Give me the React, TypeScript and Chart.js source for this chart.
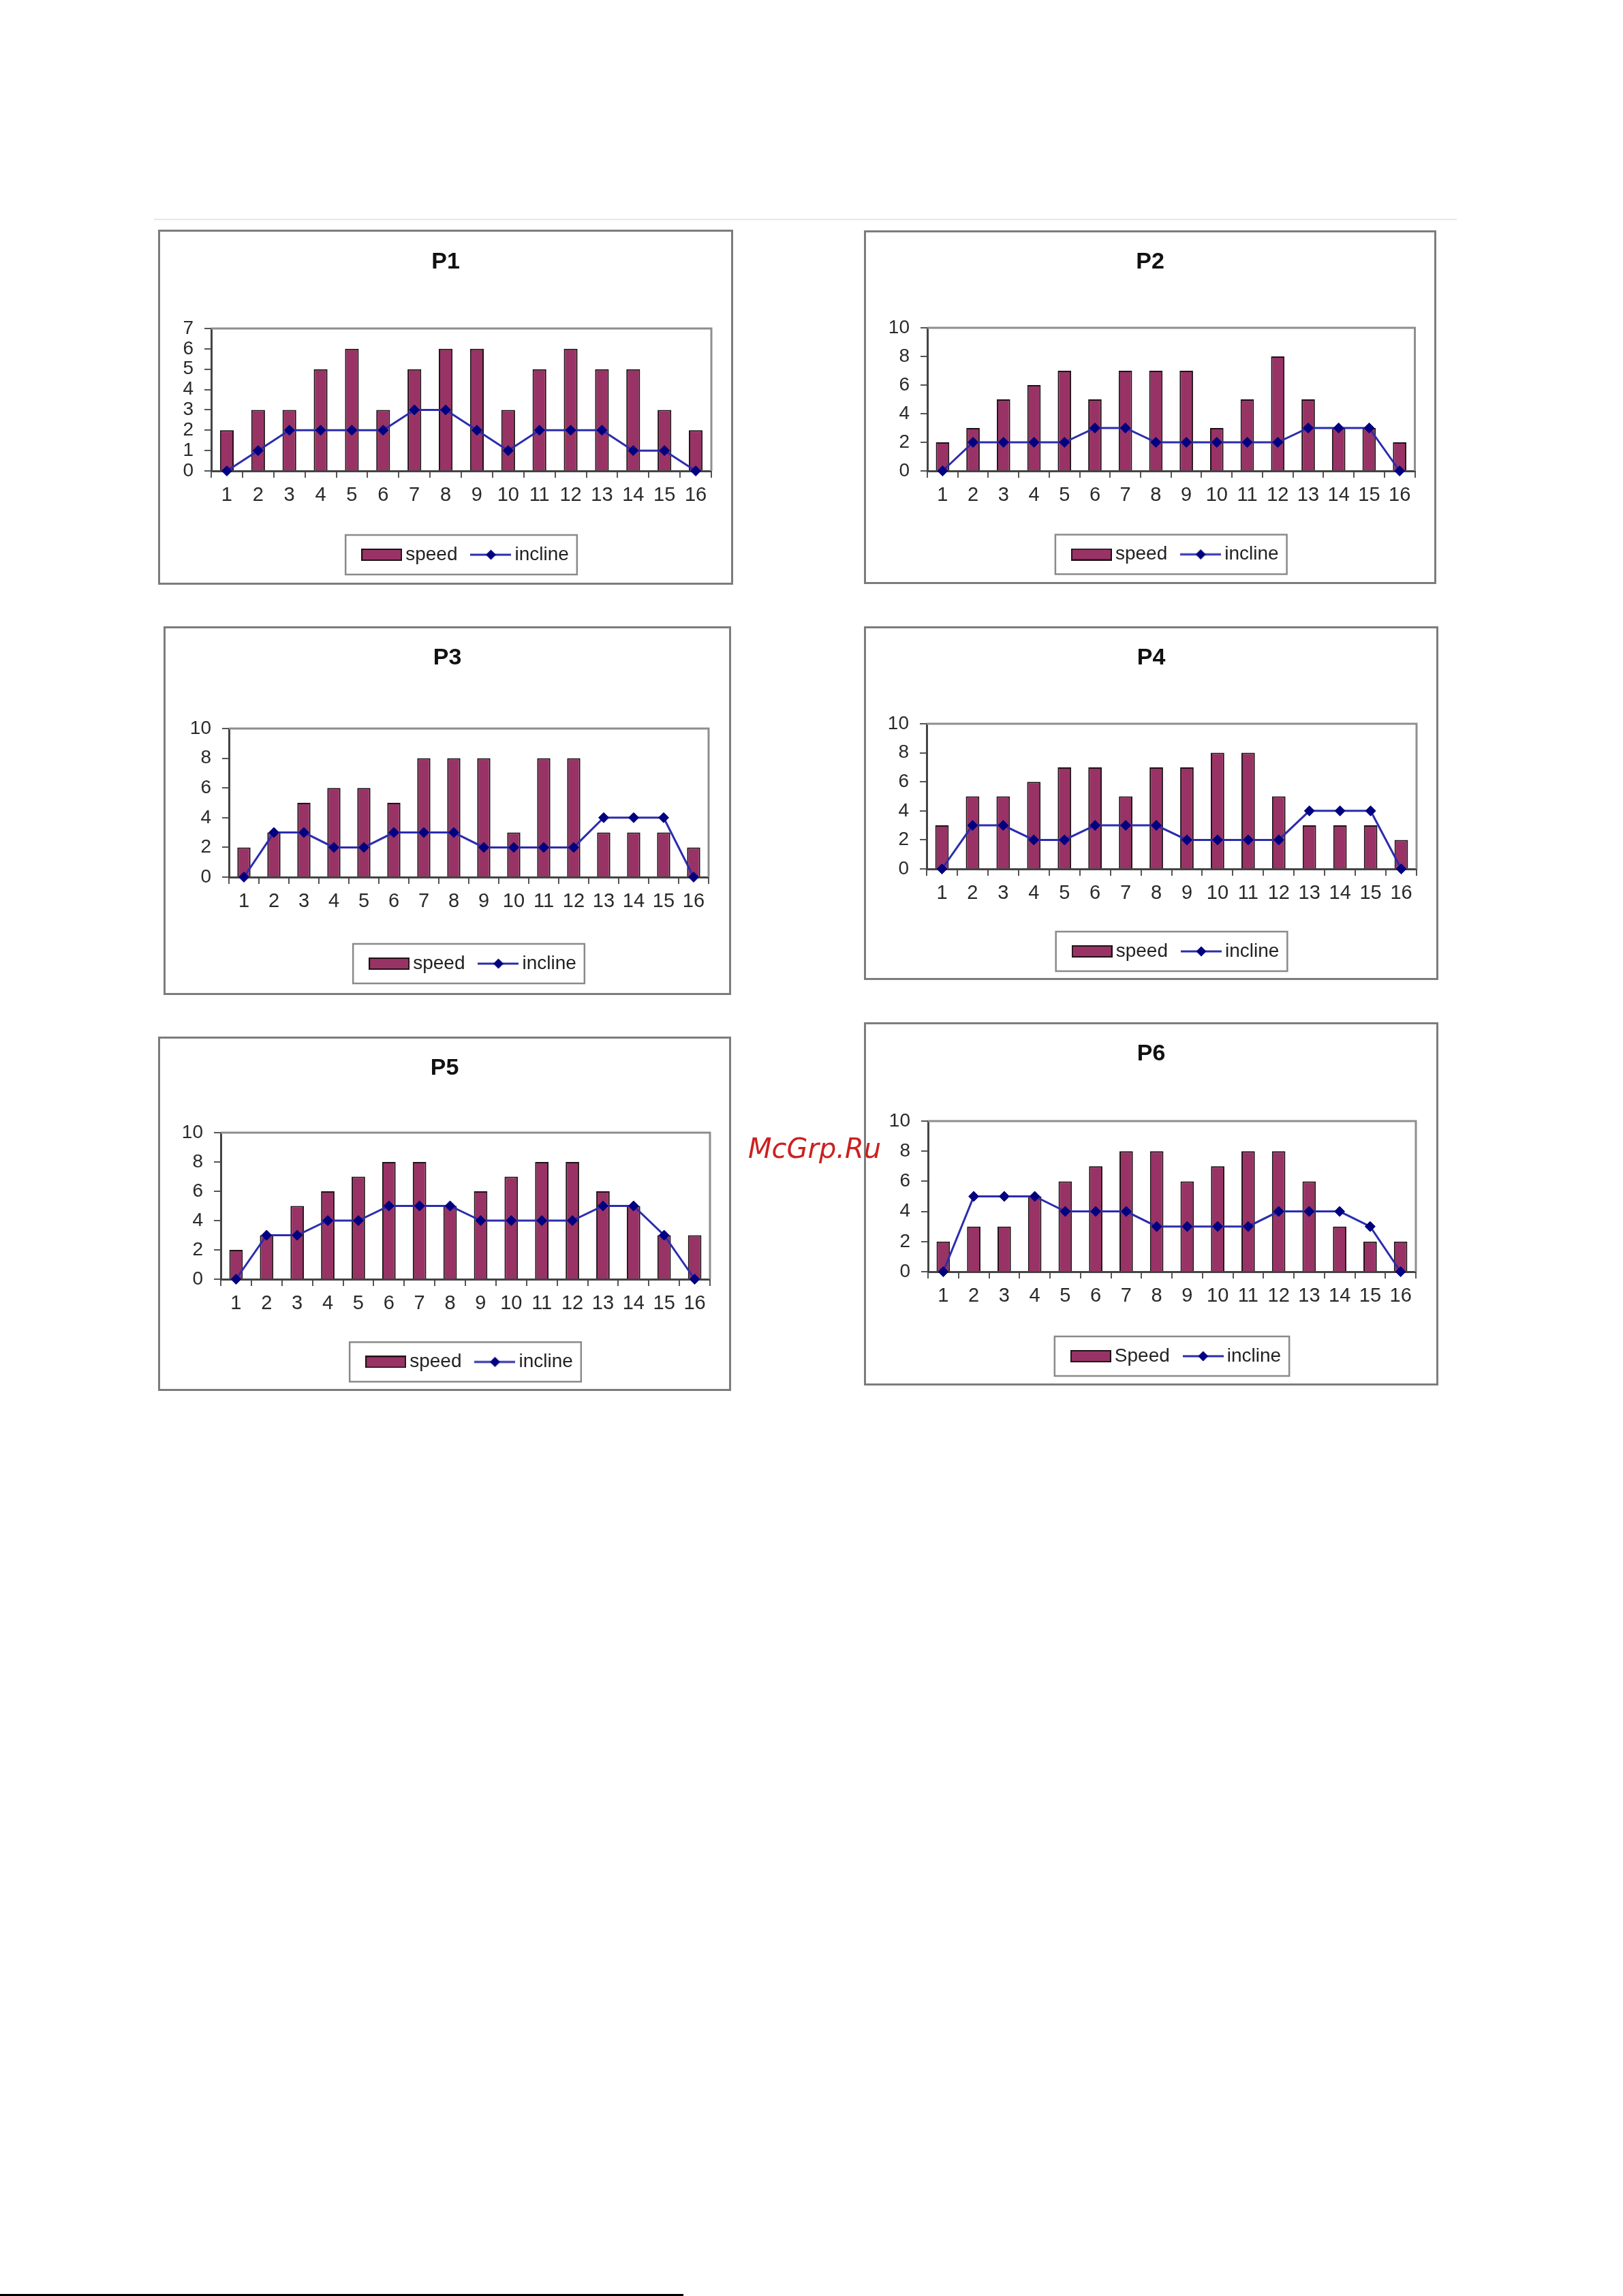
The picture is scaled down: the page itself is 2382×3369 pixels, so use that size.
import React, { useEffect, useRef } from 'react';
import { Chart, registerables } from 'chart.js';

Chart.register(...registerables);

// ---------------- data ----------------
const categories = ['1', '2', '3', '4', '5', '6', '7', '8', '9', '10', '11', '12', '13', '14', '15', '16'];

const speedP1 = [2, 3, 3, 5, 6, 3, 5, 6, 6, 3, 5, 6, 5, 5, 3, 2];
const inclineP1 = [0, 1, 2, 2, 2, 2, 3, 3, 2, 1, 2, 2, 2, 1, 1, 0];

const speedP2 = [2, 3, 5, 6, 7, 5, 7, 7, 7, 3, 5, 8, 5, 3, 3, 2];
const inclineP2 = [0, 2, 2, 2, 2, 3, 3, 2, 2, 2, 2, 2, 3, 3, 3, 0];

const speedP3 = [2, 3, 5, 6, 6, 5, 8, 8, 8, 3, 8, 8, 3, 3, 3, 2];
const inclineP3 = [0, 3, 3, 2, 2, 3, 3, 3, 2, 2, 2, 2, 4, 4, 4, 0];

const speedP4 = [3, 5, 5, 6, 7, 7, 5, 7, 7, 8, 8, 5, 3, 3, 3, 2];
const inclineP4 = [0, 3, 3, 2, 2, 3, 3, 3, 2, 2, 2, 2, 4, 4, 4, 0];

const speedP5 = [2, 3, 5, 6, 7, 8, 8, 5, 6, 7, 8, 8, 6, 5, 3, 3];
const inclineP5 = [0, 3, 3, 4, 4, 5, 5, 5, 4, 4, 4, 4, 5, 5, 3, 0];

const speedP6 = [2, 3, 3, 5, 6, 7, 8, 8, 6, 7, 8, 8, 6, 3, 2, 2];
const inclineP6 = [0, 5, 5, 5, 4, 4, 4, 3, 3, 3, 3, 4, 4, 4, 3, 0];

const chartTitles = ['P1', 'P2', 'P3', 'P4', 'P5', 'P6'];
const speedLabels = ['speed', 'speed', 'speed', 'speed', 'speed', 'Speed'];
const inclineLabel = 'incline';
const yMaxes = [7, 10, 10, 10, 10, 10];
const ySteps = [1, 2, 2, 2, 2, 2];

const speedSeries = [speedP1, speedP2, speedP3, speedP4, speedP5, speedP6];
const inclineSeries = [inclineP1, inclineP2, inclineP3, inclineP4, inclineP5, inclineP6];

const watermarkText = 'McGrp.Ru';

// ---------------- layout (page pixels) ----------------
type Box = {
  x: number; y: number; w: number; h: number;
  plotLeft: number; plotTop: number; plotBottom: number; right: number;
  titleY: number; legendY: number;
};

const boxes: Box[] = [
  { x: 232, y: 337, w: 844, h: 521, plotLeft: 78, plotTop: 145, plotBottom: 354, right: 32, titleY: 48, legendY: 477 },
  { x: 1268, y: 338, w: 840, h: 519, plotLeft: 93, plotTop: 143, plotBottom: 353, right: 31.5, titleY: 47, legendY: 475.5 },
  { x: 240, y: 919, w: 833, h: 541, plotLeft: 96, plotTop: 150, plotBottom: 368, right: 33, titleY: 46.5, legendY: 495 },
  { x: 1268, y: 919, w: 843, h: 519, plotLeft: 92, plotTop: 143, plotBottom: 356, right: 32, titleY: 46.5, legendY: 477 },
  { x: 232, y: 1521, w: 841, h: 520, plotLeft: 92, plotTop: 141, plotBottom: 356, right: 31, titleY: 46.3, legendY: 477.4 },
  { x: 1268, y: 1500, w: 843, h: 533, plotLeft: 94, plotTop: 145, plotBottom: 366, right: 33, titleY: 47, legendY: 490 },
];

const BAR_COLOR = '#993366';
const BAR_BORDER = '#1e1216';
const LINE_COLOR = '#2c2cae';
const MARKER_COLOR = '#000080';
const FONT = '"Liberation Sans", Arial, sans-serif';
const BORDER = 3;
const LEGEND_FONT = 28;
const LEGEND_PAD = 28;
const SWATCH_BOX = 42;
const TITLE_SIZE = 34;
const LEGEND_SHIFT = 10;

function makeBarSwatch(): HTMLCanvasElement {
  const c = document.createElement('canvas');
  c.width = 60;
  c.height = 18;
  const g = c.getContext('2d')!;
  g.fillStyle = BAR_COLOR;
  g.fillRect(1, 1, 58, 16);
  g.strokeStyle = BAR_BORDER;
  g.lineWidth = 2;
  g.strokeRect(1, 1, 58, 16);
  return c;
}

function makeLineSwatch(): HTMLCanvasElement {
  const c = document.createElement('canvas');
  c.width = 60;
  c.height = 18;
  const g = c.getContext('2d')!;
  g.strokeStyle = LINE_COLOR;
  g.lineWidth = 3;
  g.beginPath();
  g.moveTo(0, 9);
  g.lineTo(60, 9);
  g.stroke();
  g.fillStyle = MARKER_COLOR;
  g.beginPath();
  g.moveTo(30, 1.5);
  g.lineTo(37.5, 9);
  g.lineTo(30, 16.5);
  g.lineTo(22.5, 9);
  g.closePath();
  g.fill();
  return c;
}

const framePlugin = {
  id: 'excelFrame',
  afterLayout(chart: any) {
    const lg = chart.legend;
    if (lg) {
      lg.left += LEGEND_SHIFT;
      lg.right += LEGEND_SHIFT;
    }
  },
  beforeDatasetsDraw(chart: any) {
    const { ctx, chartArea: a } = chart;
    ctx.save();
    ctx.strokeStyle = '#8e8e8e';
    ctx.lineWidth = 3;
    ctx.beginPath();
    ctx.moveTo(a.left, a.top);
    ctx.lineTo(a.right, a.top);
    ctx.lineTo(a.right, a.bottom);
    ctx.stroke();
    ctx.restore();
  },
  afterDraw(chart: any) {
    const lg = chart.legend;
    if (!lg || !lg.lineWidths) return;
    const ctx = chart.ctx;
    const lineW = lg.lineWidths[0];
    const startX = (lg.left + LEGEND_PAD + lg.right - lineW) / 2;
    const endX = startX + lineW - LEGEND_PAD;
    const cy = lg.top + LEGEND_PAD + LEGEND_FONT / 2;
    ctx.save();
    ctx.strokeStyle = '#8a8a8a';
    ctx.lineWidth = 2.5;
    ctx.strokeRect(startX - 32, cy - 29, endX - startX + 44, 58);
    ctx.restore();
  },
};

function ExcelChart({ idx }: { idx: number }) {
  const ref = useRef<HTMLCanvasElement | null>(null);
  const b = boxes[idx];
  const cw = b.w - 2 * BORDER;
  const ch = b.h - 2 * BORDER;

  useEffect(() => {
    if (!ref.current) return;
    const barSwatch = makeBarSwatch();
    const lineSwatch = makeLineSwatch();

    const titleC = b.titleY - BORDER;
    const titleH = TITLE_SIZE * 1.2;
    const titlePadTop = titleC - titleH / 2;
    const titlePadBottom = (b.plotTop - BORDER) - titlePadTop - titleH;
    const xAxisH = b.legendY - (LEGEND_PAD + LEGEND_FONT / 2) - b.plotBottom;
    const padBottom = b.h - 2 * BORDER - (b.legendY - BORDER + (LEGEND_FONT + LEGEND_PAD + 10) - (LEGEND_PAD + LEGEND_FONT / 2));
    const padSide = b.right - BORDER;
    const yAxisW = b.plotLeft - BORDER - padSide;

    const chart = new Chart(ref.current, {
      type: 'bar',
      data: {
        labels: categories,
        datasets: [
          {
            type: 'bar',
            label: speedLabels[idx],
            data: speedSeries[idx],
            backgroundColor: BAR_COLOR,
            borderColor: BAR_BORDER,
            borderWidth: 2,
            barPercentage: 0.44,
            categoryPercentage: 1,
            order: 2,
          } as any,
          {
            type: 'line',
            label: inclineLabel,
            data: inclineSeries[idx],
            borderColor: LINE_COLOR,
            borderWidth: 3,
            pointStyle: 'rectRot',
            pointRadius: 7.5,
            pointBackgroundColor: MARKER_COLOR,
            pointBorderColor: MARKER_COLOR,
            pointBorderWidth: 1,
            tension: 0,
            clip: false,
            order: 1,
          } as any,
        ],
      },
      options: {
        animation: false,
        responsive: false,
        maintainAspectRatio: false,
        devicePixelRatio: 1,
        events: [],
        layout: { padding: { left: padSide, right: padSide, top: 0, bottom: padBottom } },
        plugins: {
          tooltip: { enabled: false },
          title: {
            display: true,
            text: chartTitles[idx],
            color: '#111',
            font: { family: FONT, size: TITLE_SIZE, weight: 'bold', lineHeight: 1.2 },
            padding: { top: titlePadTop, bottom: titlePadBottom },
          },
          legend: {
            display: true,
            position: 'bottom',
            fullSize: false,
            labels: {
              usePointStyle: true,
              pointStyleWidth: SWATCH_BOX,
              padding: LEGEND_PAD,
              color: '#222',
              font: { family: FONT, size: LEGEND_FONT },
              sort: (a: any, c: any) => a.datasetIndex - c.datasetIndex,
              generateLabels: (c: any) => {
                const items = (Chart.defaults.plugins.legend.labels as any).generateLabels(c);
                return items.map((it: any) => ({
                  ...it,
                  pointStyle: it.datasetIndex === 0 ? barSwatch : lineSwatch,
                  fontColor: '#222',
                }));
              },
            },
          },
        },
        scales: {
          x: {
            offset: true,
            grid: {
              offset: true,
              drawOnChartArea: false,
              drawTicks: true,
              tickLength: 10,
              color: '#555',
              lineWidth: 2,
            },
            border: { display: true, color: '#444', width: 3 },
            ticks: {
              color: '#2a2a2a',
              font: { family: FONT, size: 29 },
              padding: 9,
              maxRotation: 0,
              autoSkip: false,
            },
            afterFit: (s: any) => { s.height = xAxisH; },
          },
          y: {
            min: 0,
            max: yMaxes[idx],
            grid: {
              drawOnChartArea: false,
              drawTicks: true,
              tickLength: 10,
              color: '#555',
              lineWidth: 2,
            },
            border: { display: true, color: '#444', width: 3 },
            ticks: {
              stepSize: ySteps[idx],
              autoSkip: false,
              color: '#2a2a2a',
              font: { family: FONT, size: 28 },
              padding: 16,
            },
            afterFit: (s: any) => { s.width = yAxisW; },
          },
        },
      } as any,
      plugins: [framePlugin as any],
    });
    return () => chart.destroy();
  }, [idx]);

  return (
    <div
      style={{
        position: 'absolute',
        left: b.x,
        top: b.y,
        width: b.w,
        height: b.h,
        boxSizing: 'border-box',
        border: `${BORDER}px solid #7c7c7c`,
        background: '#fff',
      }}
    >
      <canvas ref={ref} width={cw} height={ch} style={{ display: 'block', width: cw, height: ch }} />
    </div>
  );
}

export default function App() {
  return (
    <div style={{ position: 'absolute', left: 0, top: 0, width: 2382, height: 3369, background: '#fff', overflow: 'hidden' }}>
      <div style={{ position: 'absolute', left: 226, top: 321, width: 1912, height: 2, background: '#e6e6e6' }} />
      {boxes.map((_, i) => (
        <ExcelChart key={i} idx={i} />
      ))}
      <div
        style={{
          position: 'absolute',
          left: 1098,
          top: 1665,
          fontFamily: '"DejaVu Sans", sans-serif',
          fontStyle: 'italic',
          fontSize: 40,
          lineHeight: 1,
          color: '#cc2020',
          whiteSpace: 'nowrap',
        }}
      >
        {watermarkText}
      </div>
      <div style={{ position: 'absolute', left: 0, top: 3366, width: 1003, height: 3, background: '#000' }} />
    </div>
  );
}
